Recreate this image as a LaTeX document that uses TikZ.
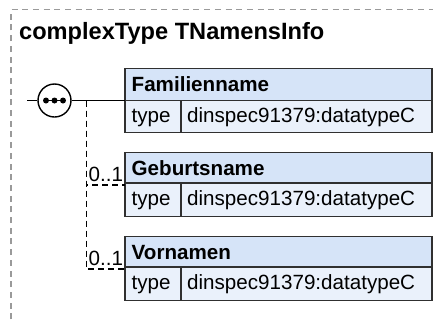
\documentclass[tikz,border=0pt]{standalone}
\usepackage{fontspec}
\setmainfont{Liberation Sans}
\definecolor{hdrfill}{HTML}{D6E4F8}
\definecolor{typfill}{HTML}{EAF1FB}
\definecolor{boxline}{HTML}{303030}
\definecolor{framecol}{HTML}{9A9A9A}
\begin{document}
\begin{tikzpicture}[x=1pt,y=-1pt,
  cell/.style={draw=boxline, line width=1.4pt, inner sep=0pt, outer sep=0pt, anchor=north west},
  hdr/.style={cell, fill=hdrfill, minimum width=307pt},
  typecell/.style={cell, fill=typfill, minimum width=56pt},
  valcell/.style={cell, fill=typfill, minimum width=251pt},
  txt/.style={inner sep=0pt, anchor=base west, font=\fontsize{20.6}{24}\selectfont},
  btxt/.style={inner sep=0pt, anchor=base west, font=\fontsize{20.6}{24}\selectfont\bfseries},
  conn/.style={draw=black, line width=1.4pt},
  optconn/.style={conn, dash pattern=on 6pt off 4pt},
  seqdot/.style={circle, fill=black, inner sep=0pt, minimum size=6pt},
]
\useasboundingbox (0,0) rectangle (433,322);
% frame
\coordinate (fb) at (11,330);
\coordinate (fc) at (11,9.5);
\coordinate (fr) at (440,9.5);
\draw[framecol, line width=1.2pt, dash pattern=on 6pt off 4.7pt] (fb) -- (fc) -- (fr);
\node[inner sep=0pt, anchor=base west, font=\fontsize{23.6}{28}\selectfont\bfseries] (title) at (19,39.6) {complexType TNamensInfo};

% boxes
\node[hdr, minimum height=32pt] (h1) at (125,68.5) {};
\node[typecell, minimum height=32pt] (t1) at (125,100.5) {};
\node[valcell, minimum height=32pt] (v1) at (181,100.5) {};
\node[btxt] (h1l) at (131.5,91.5) {Familienname};
\node[txt] (t1l) at (131.5,122.5) {type};
\node[txt] (v1l) at (187,122.5) {dinspec91379:datatypeC};

\node[hdr, minimum height=30.5pt] (h2) at (125,152.5) {};
\node[typecell, minimum height=33.5pt] (t2) at (125,183) {};
\node[valcell, minimum height=33.5pt] (v2) at (181,183) {};
\node[btxt] (h2l) at (131.5,175.5) {Geburtsname};
\node[txt] (t2l) at (131.5,205.5) {type};
\node[txt] (v2l) at (187,205.5) {dinspec91379:datatypeC};

\node[hdr, minimum height=30.5pt] (h3) at (125,236.5) {};
\node[typecell, minimum height=33.5pt] (t3) at (125,267) {};
\node[valcell, minimum height=33.5pt] (v3) at (181,267) {};
\node[btxt] (h3l) at (131.5,259.5) {Vornamen};
\node[txt] (t3l) at (131.5,289.5) {type};
\node[txt] (v3l) at (187,289.5) {dinspec91379:datatypeC};

% sequence compositor
\coordinate (stub) at (27,100.5);
\node[circle, draw=black, line width=1.4pt, fill=white, minimum size=33pt, inner sep=0pt] (seq) at (54.5,100.5) {};
\coordinate (j) at (86.7,100.5);
\draw[conn] (stub) -- (seq.west);
\draw[conn] (seq.east) -- (h1.south west);
\draw[optconn] (j) |- ([yshift=-2pt]h2.south west);
\draw[optconn] (j) |- ([yshift=-2pt]h3.south west);
\node[txt] (m2) at (88.5,181) {0..1};
\node[txt] (m3) at (88.5,265) {0..1};
% dots
\node[seqdot] (d1) at (46,100.5) {};
\node[seqdot] (d2) at (54.5,100.5) {};
\node[seqdot] (d3) at (63,100.5) {};
\draw[line width=1.8pt] (d1.center) -- (d3.center);
\end{tikzpicture}
\end{document}
